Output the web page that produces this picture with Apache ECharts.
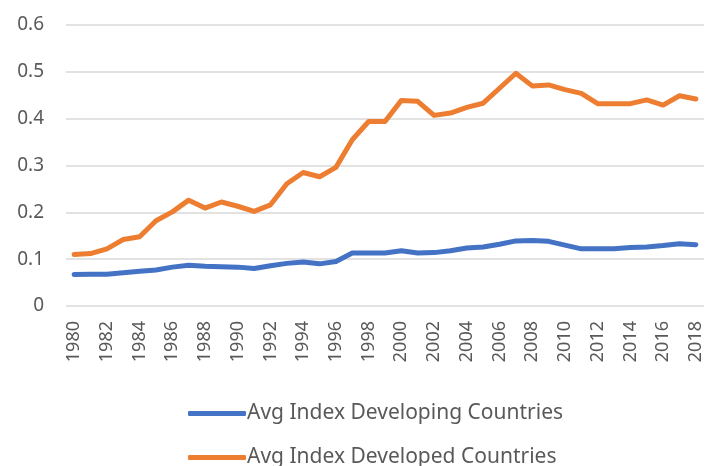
<!DOCTYPE html>
<html><head><meta charset="utf-8">
<script src="https://cdn.jsdelivr.net/npm/echarts@6/dist/echarts.min.js"></script>
<style>html,body{margin:0;padding:0;background:#fff}#c{width:707px;height:466px}</style>
</head><body><div id="c"></div>
<script>
const years = [];
for (let y = 1980; y <= 2018; y++) years.push(String(y));
const developing = [0.067,0.068,0.068,0.071,0.074,0.077,0.083,0.087,0.085,0.084,0.083,0.080,0.086,0.091,0.094,0.090,0.095,0.113,0.113,0.113,0.118,0.113,0.114,0.118,0.124,0.126,0.132,0.139,0.140,0.138,0.130,0.122,0.122,0.122,0.125,0.126,0.129,0.133,0.131];
const developed = [0.110,0.112,0.122,0.142,0.148,0.182,0.201,0.226,0.209,0.222,0.213,0.202,0.216,0.261,0.285,0.276,0.296,0.355,0.394,0.394,0.439,0.437,0.407,0.412,0.424,0.433,0.465,0.497,0.470,0.472,0.462,0.454,0.432,0.432,0.432,0.440,0.429,0.449,0.442];
const seriesNames = ['Avg Index Developing Countries','Avg Index Developed Countries'];
const colors = ['#4472C4','#ED7D31'];

const legendBase = {
  orient: 'horizontal', left: 183,
  icon: 'roundRect', itemWidth: 58, itemHeight: 5,
  textStyle: {fontFamily: 'Liberation Sans Narrow, Noto Sans, sans-serif', fontSize: 21, color: '#595959', padding: [0,0,0,-4]}
};

const chart = echarts.init(document.getElementById('c'));
chart.setOption({
  animation: false,
  color: colors,
  grid: {left: 66, right: 3, top: 25, bottom: 160},
  legend: [
    Object.assign({}, legendBase, {top: 398, data: [seriesNames[0]]}),
    Object.assign({}, legendBase, {top: 442, data: [seriesNames[1]]})
  ],
  xAxis: {
    type: 'category', data: years, boundaryGap: true,
    axisLine: {show: false}, axisTick: {show: false},
    axisLabel: {interval: 1, rotate: 90, fontSize: 18, color: '#595959', margin: 15, fontFamily: 'Noto Sans, sans-serif'}
  },
  yAxis: {
    type: 'value', min: 0, max: 0.6, interval: 0.1,
    axisLine: {show: false}, axisTick: {show: false},
    axisLabel: {fontSize: 19, color: '#595959', margin: 22, fontFamily: 'Noto Sans, sans-serif', formatter: v => String(Math.round(v*10)/10)},
    splitLine: {lineStyle: {color: '#d9d9d9', width: 1.5}}
  },
  series: [
    {name: seriesNames[0], type: 'line', data: developing, symbol: 'none', lineStyle: {width: 5, color: colors[0], cap: 'round', join: 'round'}},
    {name: seriesNames[1], type: 'line', data: developed, symbol: 'none', lineStyle: {width: 5, color: colors[1], cap: 'round', join: 'round'}}
  ]
});
</script></body></html>
